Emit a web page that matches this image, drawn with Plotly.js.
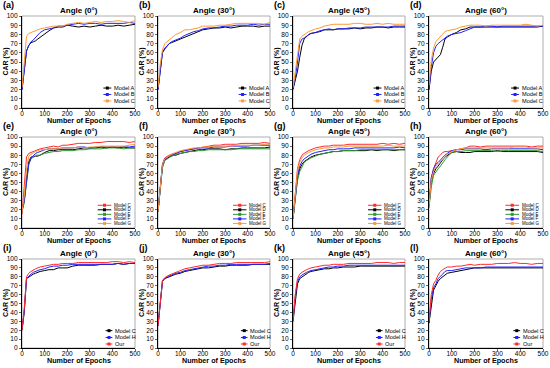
<!DOCTYPE html>
<html><head><meta charset="utf-8">
<script src="https://cdn.plot.ly/plotly-3.0.1.min.js"></script>
<style>html,body{margin:0;padding:0;background:#fff}#chart{width:550px;height:368px}</style>
</head><body><div id="chart"></div>
<script>
// Epoch sample positions (shared)
const epochs = [0,10,20,30,40,50,60,70,80,100,120,140,160,180,200,225,250,275,300,325,350,375,400,425,450,475,500];

const panelLabels = ['(a)','(b)','(c)','(d)','(e)','(f)','(g)','(h)','(i)','(j)','(k)','(l)'];
const panelTitles = ['Angle (0°)','Angle (30°)','Angle (45°)','Angle (60°)','Angle (0°)','Angle (30°)','Angle (45°)','Angle (60°)','Angle (0°)','Angle (30°)','Angle (45°)','Angle (60°)'];

const namesRow1 = ['Model A','Model B','Model C'];
const namesRow2 = ['Model C','Model D','Model E','Model F','Model G'];
const namesRow3 = ['Model C','Model H','Our'];
const colorsRow1 = ['#000000','#2222ff','#ff9933'];
const colorsRow2 = ['#ff2a2a','#000000','#2e9a2e','#2222ff','#ff9933'];
const colorsRow3 = ['#000000','#2222ff','#ff2a2a'];

// Row 1: Models A, B, C
const a_vals = [
 [20,45,62,68,71,72,73,75,77,80,84,87,88,88,90,89,88,89,88,89,90,89,89,90,89,90,91],
 [20,45,62,68,72,74,77,80,82,85,86,87,89,89,90,91,92,91,92,92,91,92,92,92,92,93,92],
 [22,55,78,81,82,83,84,85,86,87,88,89,89,89,91,92,93,92,93,94,93,94,94,95,94,93,95]];
const b_vals = [
 [20,40,60,64,67,70,71,72,73,75,77,79,81,83,85,86,87,87,88,87,88,89,89,89,88,89,89],
 [20,42,61,65,68,70,72,73,74,76,79,81,83,84,86,87,87,88,89,89,90,90,90,91,90,91,91],
 [22,48,63,70,72,74,76,78,80,82,85,85,86,87,89,89,89,90,90,91,92,92,92,92,92,91,93]];
const c_vals = [
 [20,30,40,55,68,75,78,80,81,82,83,85,85,85,86,86,86,87,86,87,87,88,88,87,88,88,88],
 [22,32,50,70,75,76,78,80,81,82,84,85,86,85,86,86,87,87,87,88,88,88,88,88,89,89,89],
 [22,40,60,75,78,80,82,83,84,86,87,89,90,91,91,91,91,92,92,91,91,92,91,92,91,91,91]];
const d_vals = [
 [20,40,50,53,55,58,66,75,77,80,82,85,86,88,88,88,88,88,88,88,88,88,88,88,88,88,89],
 [20,45,60,67,70,72,75,77,78,80,81,82,84,86,88,88,89,89,88,89,89,89,89,89,89,89,89],
 [25,52,65,72,75,78,80,83,84,85,86,88,89,90,90,90,89,90,90,90,90,90,90,91,90,89,90]];
// Row 2: Models C, D, E, F, G
const e_vals = [
 [15,50,78,82,83,84,85,86,87,88,89,90,89,91,91,92,93,93,93,94,94,95,95,95,95,94,95],
 [20,30,55,73,78,78,79,79,80,83,85,85,86,86,86,86,87,88,88,88,89,88,89,88,89,88,88],
 [18,28,50,70,76,78,80,80,80,82,83,84,84,85,85,85,86,86,87,87,87,88,88,88,87,88,88],
 [18,30,50,70,77,80,82,83,84,86,87,87,87,88,88,88,89,89,88,89,89,89,89,89,89,89,90],
 [18,35,65,79,81,83,84,85,86,86,87,87,87,88,88,88,89,88,89,89,90,90,90,90,90,91,92]];
const f_vals = [
 [18,45,70,77,79,80,81,82,82,84,85,86,87,88,89,90,91,91,92,92,92,93,93,93,93,94,93],
 [18,40,68,75,77,78,79,80,80,82,83,84,85,86,86,87,87,87,86,87,87,88,88,88,88,88,89],
 [18,40,66,74,76,78,79,80,81,82,83,84,84,85,85,86,86,86,86,86,87,87,87,87,87,87,87],
 [18,42,70,76,78,79,80,81,82,84,85,86,87,88,88,88,89,89,89,90,90,90,90,91,91,91,91],
 [18,44,70,76,78,80,81,82,83,85,86,87,88,88,89,89,90,90,90,90,91,91,91,91,91,92,92]];
const g_vals = [
 [10,40,65,75,80,82,84,85,86,88,89,90,90,91,91,91,92,92,92,92,92,92,93,92,93,92,93],
 [10,35,55,65,70,73,75,76,78,80,81,82,83,84,84,85,85,85,85,85,86,85,86,86,85,86,86],
 [10,33,52,62,68,72,74,76,77,79,81,82,83,84,84,85,85,85,86,86,86,86,86,86,86,86,86],
 [10,35,58,68,73,76,78,80,81,83,84,85,86,86,87,87,87,88,88,88,88,88,88,88,88,89,88],
 [10,38,62,72,77,80,82,83,84,86,87,88,88,89,89,89,90,90,90,90,90,90,90,91,90,90,90]];
const h_vals = [
 [25,55,65,72,78,80,83,84,84,85,86,87,88,90,90,89,90,90,90,90,90,90,90,90,89,90,90],
 [25,50,60,65,68,72,75,78,80,83,84,83,83,83,84,84,84,84,85,84,84,84,84,84,84,84,83],
 [22,45,58,62,65,68,72,75,78,83,84,84,85,85,85,85,85,85,84,85,85,85,85,85,85,85,84],
 [25,55,65,70,72,75,78,80,82,85,86,86,87,87,87,87,86,87,87,87,87,87,87,87,87,87,86],
 [25,52,62,68,70,73,76,79,81,84,86,87,88,88,88,88,88,88,88,88,88,89,89,89,88,88,88]];
// Row 3: Model C, Model H, Our
const i_vals = [
 [20,40,78,80,82,83,84,85,86,87,88,88,90,90,90,92,93,93,93,93,94,94,94,95,94,95,95],
 [20,42,78,81,83,85,86,87,88,89,91,92,92,93,93,94,94,94,94,94,94,94,94,95,94,95,95],
 [20,45,80,84,86,88,89,90,91,92,93,94,94,95,95,95,96,96,96,96,96,96,97,97,96,97,96]];
const j_vals = [
 [25,50,75,78,79,80,81,82,83,84,86,87,88,89,90,90,91,92,92,93,93,93,93,94,94,94,94],
 [25,50,75,78,80,81,82,83,84,85,87,88,89,90,91,92,92,93,93,94,94,94,94,94,94,94,95],
 [25,52,76,79,81,82,83,84,85,87,89,90,91,92,93,93,94,95,95,95,96,96,96,96,96,96,97]];
const k_vals = [
 [30,55,72,78,80,82,84,85,86,87,88,89,89,90,90,91,91,91,92,92,92,92,92,92,92,92,92],
 [30,58,75,80,82,84,85,86,87,88,89,90,91,91,92,92,93,93,93,93,93,93,93,93,93,93,93],
 [30,60,78,83,85,87,88,89,90,91,92,93,93,94,94,94,95,95,95,95,95,96,96,96,95,96,96]];
const l_vals = [
 [28,50,65,70,75,78,80,83,84,85,86,87,88,89,90,90,90,90,90,90,90,90,90,90,90,90,90],
 [28,55,68,72,78,80,83,86,87,87,88,89,90,90,90,90,91,91,91,91,91,91,91,91,91,91,91],
 [30,60,72,76,82,86,88,90,91,91,92,92,93,94,93,94,94,94,95,95,95,96,95,95,94,95,95]];

const xTicks = [0,100,200,300,400,500];
const yTicks = [0,10,20,30,40,50,60,70,80,90,100];

const allVals = [a_vals,b_vals,c_vals,d_vals,e_vals,f_vals,g_vals,h_vals,i_vals,j_vals,k_vals,l_vals];
const rowNames = [namesRow1,namesRow2,namesRow3];
const rowColors = [colorsRow1,colorsRow2,colorsRow3];

// layout geometry (pixels)
const W=550,H=368;
const colPx = [[22,135],[158,270],[293,405],[429,543]];
const rowPx = [[16,108],[137,228],[259,348]];
const legY = [[0.217,0.147,0.077],[0.25,0.2,0.15,0.1,0.05],[0.195,0.118,0.045]];
const legX = [[0.72,0.79,0.805],[0.67,0.79,0.805],[0.74,0.80,0.815]];
const legFont = [5.6,4.5,5.6];

const FF = 'Arial, "Liberation Sans", sans-serif';
const data=[]; const shapes=[]; const annotations=[];
const layout = {width:W,height:H,margin:{l:0,r:0,t:0,b:0},paper_bgcolor:'#fff',plot_bgcolor:'#fff',
  showlegend:false,font:{family:FF,color:'#000'}};

for(let p=0;p<12;p++){
  const r=Math.floor(p/4), c=p%4;
  const sfx = p===0?'':String(p+1);
  const xa='x'+sfx, ya='y'+sfx;
  const [x0,x1]=colPx[c], [y0,y1]=rowPx[r];
  layout['xaxis'+sfx]={domain:[x0/W,x1/W],anchor:ya,range:[0,500],tickvals:xTicks,ticks:'outside',ticklen:2,tickwidth:0.8,
    ticklabelstandoff:-3,
    tickfont:{size:6.5,family:FF},showline:true,linecolor:'#000',linewidth:1,showgrid:false,zeroline:false,fixedrange:true};
  layout['yaxis'+sfx]={domain:[1-y1/H,1-y0/H],anchor:xa,range:[0,100],tickvals:yTicks,ticks:'outside',ticklen:2,tickwidth:0.8,
    tickfont:{size:6.6,family:FF},showline:true,linecolor:'#000',linewidth:1,showgrid:false,zeroline:false,fixedrange:true};
  // frame (top/right)
  shapes.push({type:'rect',xref:xa+' domain',yref:ya+' domain',x0:0,x1:1,y0:0,y1:1,line:{color:'#9a9a9a',width:0.8},layer:'below'});
  const vals=allVals[p], names=rowNames[r], cols=rowColors[r];
  vals.forEach((v,i)=>{
    data.push({type:'scatter',mode:'lines',x:epochs,y:v,xaxis:xa,yaxis:ya,name:names[i],
      line:{color:cols[i],width:1},hoverinfo:'skip'});
    // manual legend entry
    const ly=legY[r][i], lx=legX[r];
    shapes.push({type:'line',xref:xa+' domain',yref:ya+' domain',x0:lx[0],x1:lx[1],y0:ly,y1:ly,line:{color:cols[i],width:1}});
    const mx=(lx[0]+lx[1])/2, hw=1.5/(x1-x0), hh=1.5/(y1-y0);
    shapes.push({type:'rect',xref:xa+' domain',yref:ya+' domain',x0:mx-hw,x1:mx+hw,y0:ly-hh,y1:ly+hh,line:{width:0},fillcolor:cols[i]});
    annotations.push({xref:xa+' domain',yref:ya+' domain',x:lx[2],y:ly,xanchor:'left',yanchor:'middle',showarrow:false,
      borderpad:0,text:names[i],font:{size:legFont[r],family:FF,color:'#000'}});
  });
  // panel label
  annotations.push({xref:'paper',yref:'paper',x:(x0-21)/W,y:1-(y0-11)/H,xanchor:'left',yanchor:'middle',showarrow:false,
    text:panelLabels[p],font:{size:9,family:FF,weight:'bold'}});
  // title
  annotations.push({xref:'paper',yref:'paper',x:((x0+x1)/2)/W,y:1-(y0-5.5)/H,xanchor:'center',yanchor:'middle',showarrow:false,
    text:panelTitles[p],font:{size:8,family:FF,weight:'bold'}});
  // axis titles
  annotations.push({xref:'paper',yref:'paper',x:((x0+x1)/2)/W,y:1-(y1+12.5)/H,xanchor:'center',yanchor:'middle',showarrow:false,
    borderpad:0,text:'Number of Epochs',font:{size:7.2,family:FF,weight:'bold'}});
  annotations.push({xref:'paper',yref:'paper',x:(x0-16.5)/W,y:1-((y0+y1)/2)/H,xanchor:'center',yanchor:'middle',showarrow:false,textangle:-90,
    borderpad:0,text:'CAR (%)',font:{size:7,family:FF,weight:'bold'}});
}
layout.shapes=shapes; layout.annotations=annotations;
Plotly.newPlot('chart',data,layout,{staticPlot:true,displayModeBar:false});
</script></body></html>
